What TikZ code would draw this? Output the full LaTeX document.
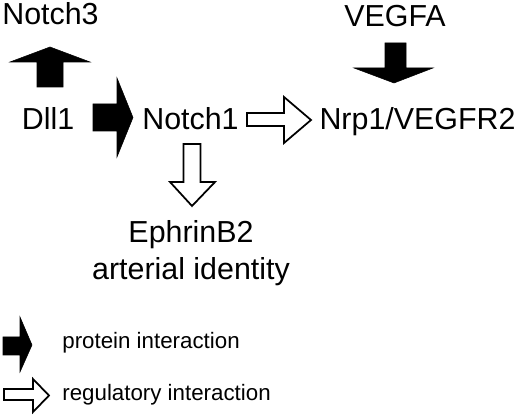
\documentclass[tikz,border=0pt]{standalone}
\usepackage{fontspec}
\setmainfont{Liberation Sans}
\begin{document}
\begin{tikzpicture}[
    x=0.02cm, y=0.02cm,
    gene/.style={font=\fontsize{17.3}{21.5}\selectfont, inner sep=0pt, anchor=base},
    legend/.style={font=\fontsize{12.7}{15}\selectfont, inner sep=0pt, anchor=base west},
    protein/.style={fill=black, draw=black, line width=0.3pt, line join=miter},
    regulatory/.style={fill=white, draw=black, line width=1pt, line join=miter},
]
\useasboundingbox (0,0) rectangle (520,415);

% Gene / protein labels
\node[gene] (notch3) at (50.5, 390) {Notch3};
\node[gene] (vegfa)  at (395, 388) {VEGFA};
\node[gene] (dll1)   at (48, 285) {Dll1};
\node[gene] (notch1) at (190.5, 285) {Notch1};
\node[gene] (nrp1)   at (417.5, 285) {Nrp1/VEGFR2};
\node[gene, align=center] (ephrin) at (191, 135) {EphrinB2\\arterial identity};

% Protein interactions (filled block arrows)
\draw[protein] (37,328) -- (37,353) -- (10,353) -- (50,368)
    -- (90,353) -- (63,353) -- (63,328) -- cycle;
\draw[protein] (385,372) -- (385,347) -- (354,347) -- (394,332)
    -- (433,347) -- (406,347) -- (406,372) -- cycle;
\draw[protein] (93,284) -- (117,284) -- (117,258) -- (133,297.5)
    -- (117,337) -- (117,311) -- (93,311) -- cycle;

% Regulatory interactions (open block arrows)
\draw[regulatory] (247,289) -- (284,289) -- (284,272) -- (311,295)
    -- (284,318) -- (284,302) -- (247,302) -- cycle;
\draw[regulatory] (183.5,271) -- (183.5,233) -- (170,233) -- (192,209)
    -- (215,233) -- (200.5,233) -- (200.5,271) -- cycle;

% Legend
\draw[protein] (3,60) -- (20,60) -- (20,43) -- (32,70)
    -- (20,98) -- (20,78) -- (3,78) -- cycle;
\node[legend] (lprot) at (62, 66) {protein interaction};
\draw[regulatory] (4,15) -- (33,15) -- (33,3) -- (49,19.5)
    -- (33,36) -- (33,26) -- (4,26) -- cycle;
\node[legend] (lreg) at (62, 14) {regulatory interaction};

\end{tikzpicture}
\end{document}
